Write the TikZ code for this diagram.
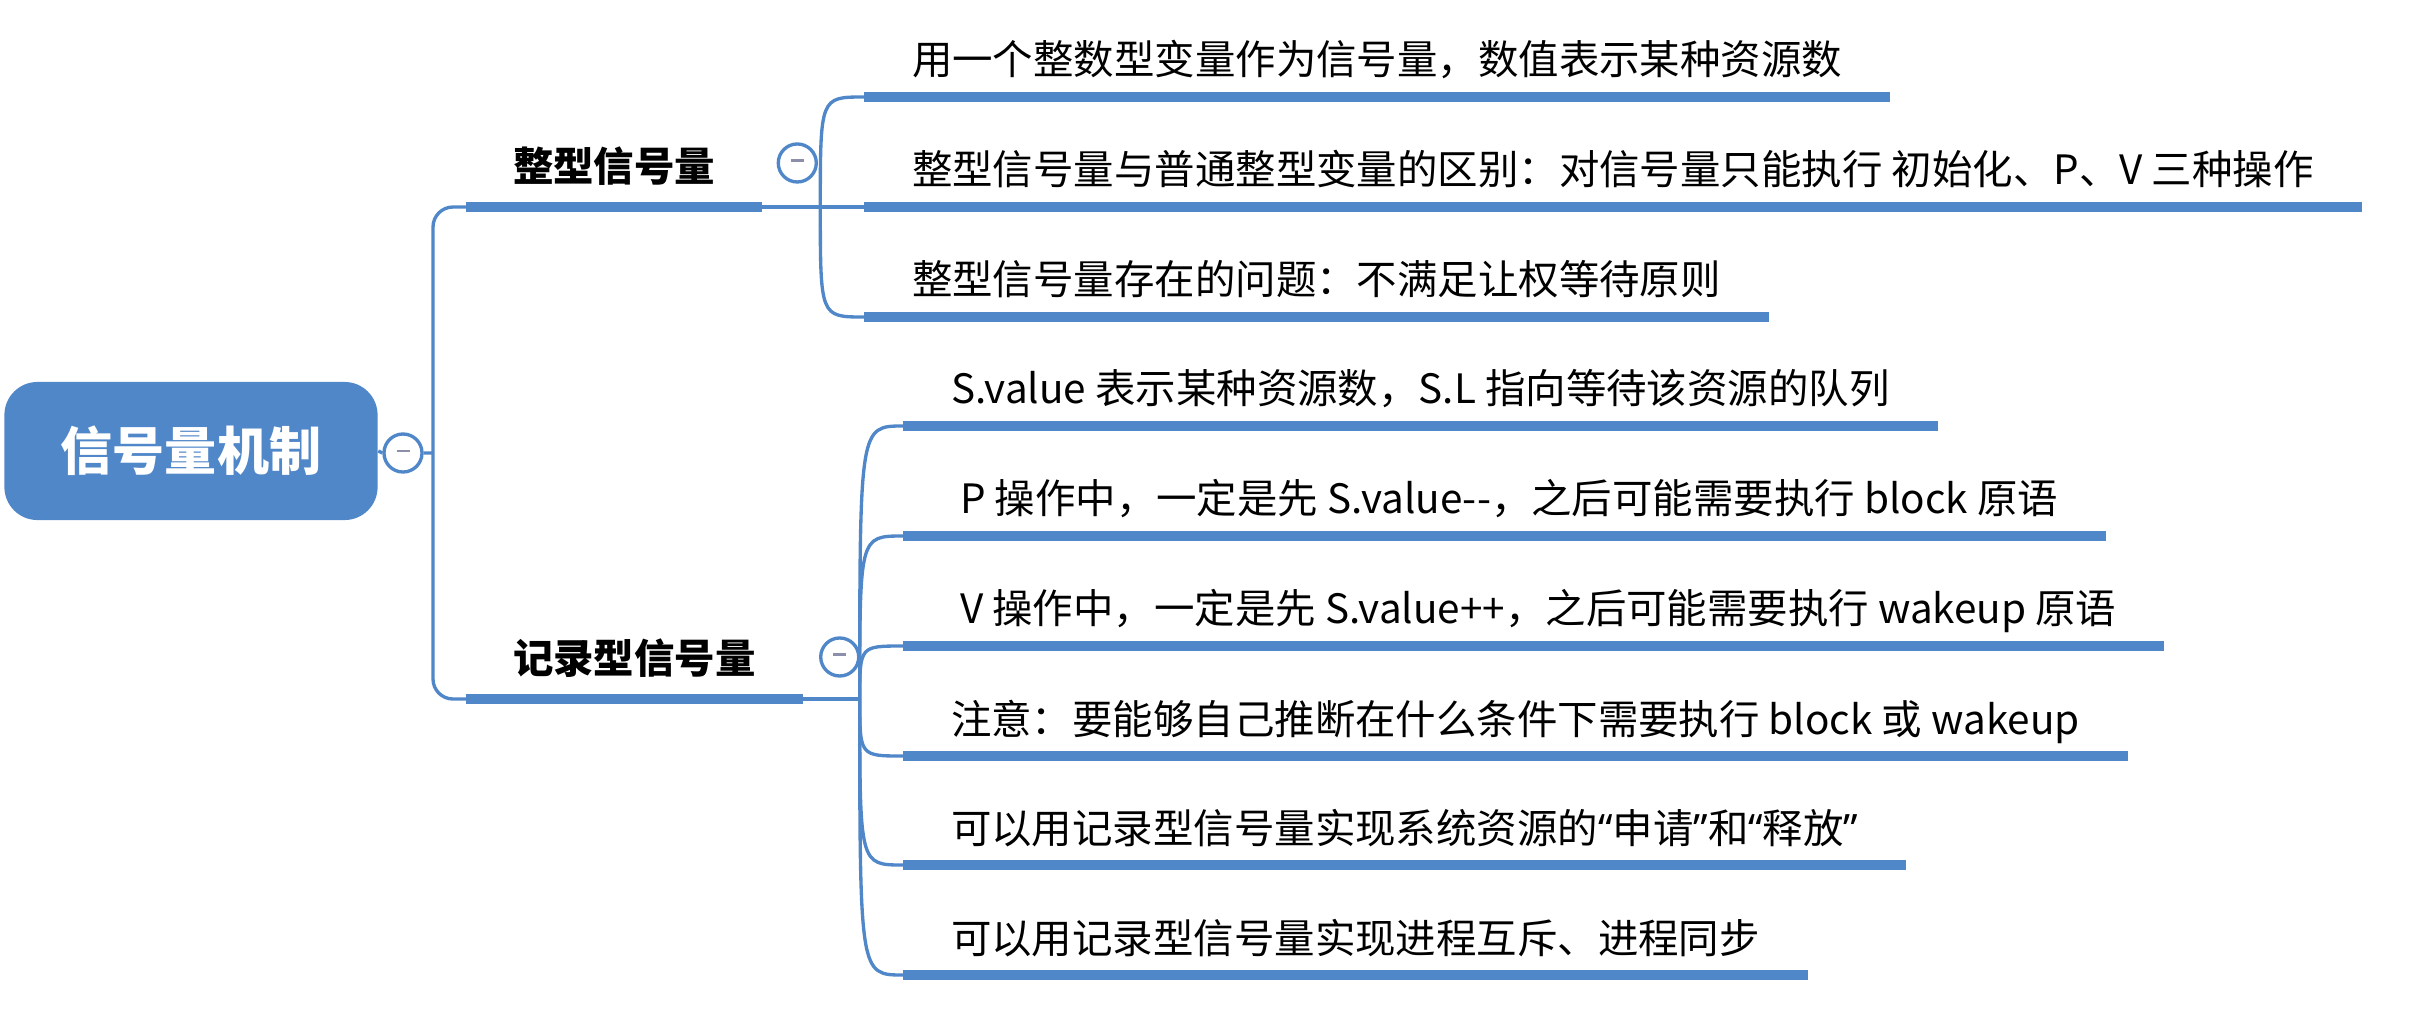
\documentclass[tikz,border=0pt]{standalone}
\usepackage{fontspec}
\newfontfamily\cjk{Noto Sans CJK SC}
\newfontfamily\latin{Noto Sans}
\definecolor{mblue}{RGB}{80,135,200}
\definecolor{foldgray}{RGB}{140,142,170}

\begin{document}
\begin{tikzpicture}[x=0.01cm, y=-0.01cm,
    link/.style={draw=mblue, line width=0.95pt},
    bar/.style={draw=mblue, line width=2.8pt},
    rootbox/.style={fill=mblue, rounded corners=0.33cm, minimum width=3.73cm, minimum height=1.38cm,
        text=white, font=\cjk\bfseries\fontsize{14.8pt}{18pt}\selectfont},
    topic/.style={anchor=south west, outer sep=0pt, inner xsep=0.47cm, inner ysep=0.15cm,
        text height=0.3cm, text depth=0.1cm, font=\cjk\bfseries\fontsize{11.5pt}{14pt}\selectfont},
    leaf/.style={anchor=south west, outer sep=0pt, inner xsep=0.48cm, inner ysep=0.12cm,
        text height=0.3cm, text depth=0.1cm, font=\cjk\fontsize{11.5pt}{14pt}\selectfont},
    fold/.style={circle, draw=mblue, line width=0.95pt, fill=white, minimum size=0.38cm, inner sep=0pt}]
    \useasboundingbox (0,0) rectangle (2419,1015);
    %root
    \node[rootbox] (root) at (191,451) {信号量机制};
    \node[fold] (rootfold) at (403,453) {\color{foldgray}\rule[0.3ex]{0.13cm}{0.7pt}};
    \coordinate (hub) at (433,453);
    %kinds of semaphore
    \node[topic] (int) at (466,207) {整型信号量};
    \node[topic] (rec) at (466,699) {记录型信号量};
    \node[fold] (intfold) at ([shift={(0.35cm,0.44cm)}]int.south east) {\color{foldgray}\rule[0.3ex]{0.13cm}{0.7pt}};
    \node[fold] (recfold) at ([shift={(0.37cm,0.42cm)}]rec.south east) {\color{foldgray}\rule[0.3ex]{0.13cm}{0.7pt}};
    \coordinate (intj) at ([xshift=0.58cm]int.south east);
    \coordinate (recj) at ([xshift=0.57cm]rec.south east);
    %integer semaphore
    \node[leaf] (c1) at (864,97) {用一个整数型变量作为信号量，数值表示某种资源数};
    \node[leaf] (c2) at (864,207) {整型信号量与普通整型变量的区别：对信号量只能执行 初始化、P、V 三种操作};
    \node[leaf] (c3) at (864,317) {整型信号量存在的问题：不满足让权等待原则};
    %record semaphore
    \node[leaf] (d1) at (903,426) {S.value 表示某种资源数，S.L 指向等待该资源的队列};
    \node[leaf] (d2) at (903,536) {\ P 操作中，一定是先 S.value-{}-，之后可能需要执行 block 原语};
    \node[leaf] (d3) at (903,646) {\ V 操作中，一定是先 S.value++，之后可能需要执行 wakeup 原语};
    \node[leaf] (d4) at (903,756) {注意：要能够自己推断在什么条件下需要执行 block 或 wakeup};
    \node[leaf] (d5) at (903,865) {可以用记录型信号量实现系统资源的{\latin“}申请{\latin”}和{\latin“}释放{\latin”}};
    \node[leaf] (d6) at (903,975) {可以用记录型信号量实现进程互斥、进程同步};
    %connectors
    \draw[link] (root.east) -- (rootfold.west) (rootfold.east) -- (hub);
    \draw[link, rounded corners=0.2cm] (int.south west) -| (hub) |- (rec.south west);
    \draw[link] (int.south east) -- (intj);
    \draw[link] (rec.south east) -- (recj);
    \foreach \n in {c1,c2,c3}
        \draw[link] (intj) .. controls (intj |- \n.south west) .. (\n.south west);
    \foreach \n in {d1,d2,d3,d4,d5,d6}
        \draw[link] (recj) .. controls (recj |- \n.south west) .. (\n.south west);
    \foreach \n in {int,rec,c1,c2,c3,d1,d2,d3,d4,d5,d6}
        \draw[bar] (\n.south west) -- (\n.south east);
\end{tikzpicture}
\end{document}
